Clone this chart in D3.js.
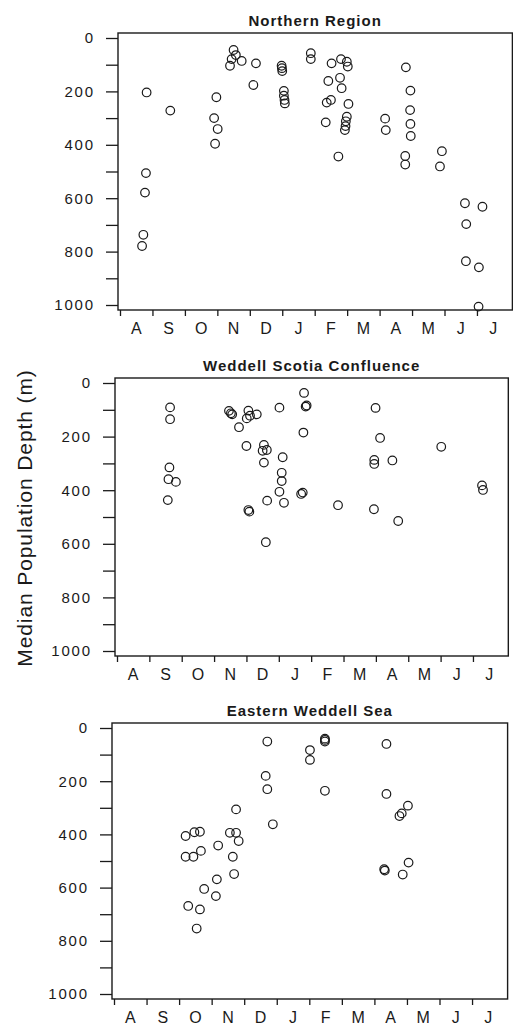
<!DOCTYPE html>
<html>
<head>
<meta charset="utf-8">
<script src="https://cdn.jsdelivr.net/npm/d3@7/dist/d3.min.js"></script>
<style>
  html, body { margin: 0; padding: 0; background: #fff; }
  svg { display: block; }
  text { font-family: "Liberation Sans", Arial, Helvetica, sans-serif; fill: #1a1a1a; }
</style>
</head>
<body>
<svg id="chart" width="513" height="1029"></svg>
<script>
// Month axis runs from August (0) to July (12); values are fractional months since 1 August.
const monthLabels = ["A", "S", "O", "N", "D", "J", "F", "M", "A", "M", "J", "J"];
const depthTicks = [0, 100, 200, 300, 400, 500, 600, 700, 800, 900, 1000];
const regionNames = ["Northern Region", "Weddell Scotia Confluence", "Eastern Weddell Sea"];

// [month, median population depth (m)]
const northern = [
  [0.82, 204], [0.80, 506], [0.77, 579], [0.72, 737], [0.68, 779],
  [1.55, 272],
  [2.97, 222], [2.90, 300], [3.01, 341], [2.93, 396],
  [3.50, 45], [3.57, 64], [3.44, 79], [3.39, 104], [3.75, 86],
  [4.19, 95], [4.11, 176],
  [4.98, 104], [4.99, 113], [5.00, 124], [5.05, 198], [5.05, 216], [5.07, 232], [5.08, 245],
  [5.88, 57], [5.88, 79],
  [6.52, 95], [6.42, 161], [6.37, 242], [6.50, 232], [6.34, 316],
  [6.81, 79], [6.99, 89], [7.02, 107], [6.78, 149], [6.83, 188], [7.04, 247],
  [6.99, 295], [6.96, 312], [6.95, 330], [6.93, 345], [6.73, 444],
  [8.17, 302], [8.19, 345],
  [8.81, 110], [8.95, 197], [8.94, 270], [8.95, 322], [8.96, 367], [8.79, 442], [8.79, 474],
  [9.92, 424], [9.86, 481],
  [10.63, 619], [11.17, 632], [10.67, 697], [10.66, 836], [11.06, 859], [11.05, 1006]
];

const scotia = [
  [1.64, 91], [1.64, 135], [1.62, 315], [1.59, 359], [1.82, 369], [1.57, 437],
  [3.46, 104], [3.52, 113], [3.56, 117],
  [4.06, 103], [4.32, 117], [4.01, 132], [4.11, 122], [3.77, 165], [4.00, 235],
  [4.06, 474], [4.09, 480],
  [4.54, 231], [4.50, 253], [4.63, 250], [4.54, 297], [4.64, 439], [4.60, 594],
  [5.02, 92], [5.12, 277], [5.09, 335], [5.09, 366], [5.02, 406], [5.16, 447],
  [5.69, 414], [5.74, 409],
  [5.78, 37], [5.83, 88], [5.86, 84], [5.76, 185],
  [6.83, 456],
  [7.99, 93], [8.13, 205], [7.95, 287], [7.95, 302], [8.51, 289], [7.94, 471], [8.69, 515],
  [10.02, 238],
  [11.28, 382], [11.31, 399]
];

const easternWeddell = [
  [2.20, 406], [2.47, 392], [2.64, 390], [2.20, 484], [2.44, 484], [2.67, 462],
  [3.20, 442], [3.16, 569], [3.13, 632], [2.77, 605], [2.28, 669], [2.64, 682], [2.54, 754],
  [3.75, 306], [3.56, 394], [3.75, 394], [3.83, 425], [3.65, 484], [3.69, 549],
  [4.71, 51], [4.66, 180], [4.71, 230], [4.88, 362],
  [6.02, 83], [6.02, 120], [6.48, 45], [6.48, 51], [6.48, 40], [6.48, 236],
  [8.37, 60], [8.37, 248], [9.03, 292], [8.84, 321], [8.77, 331],
  [9.05, 506], [8.87, 551], [8.30, 531], [8.32, 536]
];

const series = [northern, scotia, easternWeddell];

// Panel placement on the page
const panels = [
  { left: 120, monthW: 32.45, top: 38,  bottom: 305 },
  { left: 117, monthW: 32.36, top: 383, bottom: 651 },
  { left: 114, monthW: 32.55, top: 728, bottom: 994 }
];

const svg = d3.select("#chart");
const ink = "#1a1a1a";

panels.forEach((p, i) => {
  const x = d3.scaleLinear().domain([0, 12]).range([p.left, p.left + 12 * p.monthW]);
  const y = d3.scaleLinear().domain([0, 1000]).range([p.top, p.bottom]);

  const g = svg.append("g");

  const fx0 = x(0) - 2, fx1 = x(12) + 3;
  const fy0 = y(0) - 5, fy1 = y(1000) + 5;

  // frame
  g.append("rect")
    .attr("x", fx0).attr("y", fy0)
    .attr("width", fx1 - fx0).attr("height", fy1 - fy0)
    .attr("fill", "none").attr("stroke", ink).attr("stroke-width", 1.4);

  // depth axis
  const yAxis = d3.axisLeft(y)
    .tickValues(depthTicks)
    .tickSize(12)
    .tickPadding(13)
    .tickFormat(d => d % 200 === 0 ? d : "");
  const ya = g.append("g").attr("transform", `translate(${fx0},0)`).call(yAxis);
  ya.select(".domain").remove();
  ya.selectAll(".tick line").attr("stroke", ink).attr("stroke-width", 1.3);
  ya.selectAll(".tick text")
    .attr("font-size", 15)
    .attr("letter-spacing", 1.8)
    .attr("dx", 1.8)
    .style("font-family", '"Liberation Sans", Arial, sans-serif')
    .attr("fill", ink);

  // month axis
  const xAxis = d3.axisBottom(x)
    .tickValues(d3.range(0, 12))
    .tickSize(6)
    .tickFormat("");
  const xa = g.append("g").attr("transform", `translate(0,${fy1})`).call(xAxis);
  xa.select(".domain").remove();
  xa.selectAll(".tick line").attr("stroke", ink).attr("stroke-width", 1.3);

  g.append("g").selectAll("text")
    .data(monthLabels)
    .join("text")
    .attr("x", (d, k) => x(k + 0.5))
    .attr("y", fy1 + 24)
    .attr("text-anchor", "middle")
    .attr("font-size", 16)
    .text(d => d);

  // panel title
  g.append("text")
    .attr("x", (fx0 + fx1) / 2)
    .attr("y", fy0 - 7)
    .attr("text-anchor", "middle")
    .attr("font-size", 15)
    .attr("font-weight", "bold")
    .attr("letter-spacing", 1)
    .text(regionNames[i]);

  // observations
  g.append("g").selectAll("circle")
    .data(series[i])
    .join("circle")
    .attr("cx", d => x(d[0]))
    .attr("cy", d => y(d[1]))
    .attr("r", 4.3)
    .attr("fill", "none")
    .attr("stroke", ink)
    .attr("stroke-width", 1.2);
});

// shared depth label
svg.append("text")
  .attr("transform", "translate(32,518) rotate(-90)")
  .attr("text-anchor", "middle")
  .attr("font-size", 21)
  .attr("letter-spacing", 0.9)
  .text("Median Population Depth (m)");
</script>
</body>
</html>
